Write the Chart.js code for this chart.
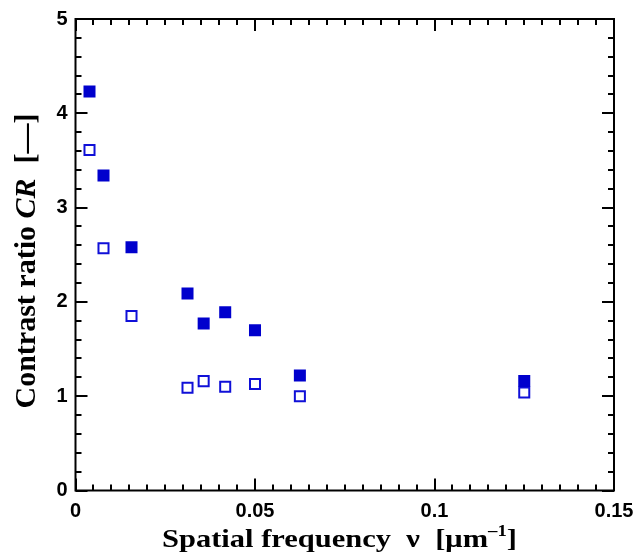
<!DOCTYPE html>
<html>
<head>
<meta charset="utf-8">
<script src="https://cdn.jsdelivr.net/npm/chart.js@4/dist/chart.umd.min.js"></script>
<style>
  html, body { margin: 0; padding: 0; background: #ffffff; }
  #wrap { width: 636px; height: 552px; }
</style>
</head>
<body>
<div id="wrap"><canvas id="c" width="636" height="552"></canvas></div>
<script>
// ---- data ----
const spatialFrequency = [0.0039, 0.0078, 0.0156, 0.0312, 0.0357, 0.0417, 0.05, 0.0625, 0.125];
const contrastFilled   = [4.23, 3.34, 2.58, 2.09, 1.77, 1.89, 1.70, 1.22, 1.16];
const contrastOpen     = [3.61, 2.57, 1.85, 1.09, 1.16, 1.10, 1.13, 1.00, 1.04];

const xTickLabels = ['0', '0.05', '0.1', '0.15'];
const yTickLabels = ['0', '1', '2', '3', '4', '5'];
const xMinorStep = 0.005;
const yMinorStep = 0.2;

const xTitleParts = ['Spatial frequency  \u03BD  [\u03BCm', '\u20131', ']'];
const yTitleParts = ['Contrast ratio ', 'CR', '  [\u2014]'];

const BLUE = '#0000cd';

const filledPoints = spatialFrequency.map((x, i) => ({ x: x, y: contrastFilled[i] }));
const openPoints   = spatialFrequency.map((x, i) => ({ x: x, y: contrastOpen[i] }));

// frame, inward ticks and axis titles
const framePlugin = {
  id: 'frame',
  beforeDatasetsDraw(chart) {
    const { ctx, chartArea: a, scales } = chart;
    const xs = scales.x, ys = scales.y;
    ctx.save();
    ctx.strokeStyle = '#000';
    ctx.lineWidth = 2;
    ctx.lineCap = 'butt';
    ctx.strokeRect(a.left, a.top, a.right - a.left, a.bottom - a.top);
    ctx.beginPath();
    const nx = Math.round((xs.max - xs.min) / xMinorStep);
    for (let i = 0; i <= nx; i++) {
      const v = xs.min + i * xMinorStep;
      const px = Math.round(xs.getPixelForValue(v));
      const len = (i % 10 === 0) ? 12 : 6;
      ctx.moveTo(px, a.bottom); ctx.lineTo(px, a.bottom - len);
      ctx.moveTo(px, a.top); ctx.lineTo(px, a.top + len);
    }
    const ny = Math.round((ys.max - ys.min) / yMinorStep);
    for (let i = 0; i <= ny; i++) {
      const v = ys.min + i * yMinorStep;
      const py = Math.round(ys.getPixelForValue(v));
      const len = (i % 5 === 0) ? 12 : 6;
      ctx.moveTo(a.left, py); ctx.lineTo(a.left + len, py);
      ctx.moveTo(a.right, py); ctx.lineTo(a.right - len, py);
    }
    ctx.stroke();
    ctx.restore();
  },
  afterDraw(chart) {
    const { ctx } = chart;
    ctx.save();
    ctx.fillStyle = '#000';
    ctx.textBaseline = 'alphabetic';
    ctx.textAlign = 'left';
    // x title (slightly widened like the reference)
    const fx = 'bold 26px "Liberation Serif", "Times New Roman", serif';
    const fsup = 'bold 16px "Liberation Serif", "Times New Roman", serif';
    ctx.font = fx;
    const w0 = ctx.measureText(xTitleParts[0]).width;
    const w2 = ctx.measureText(xTitleParts[2]).width;
    ctx.font = fsup;
    const w1 = ctx.measureText(xTitleParts[1]).width;
    const total = w0 + w1 + w2;
    const sx = 355 / total;
    ctx.save();
    ctx.translate(339.5, 547);
    ctx.scale(sx, 1);
    let x = -total / 2;
    ctx.font = fx; ctx.fillText(xTitleParts[0], x, 0); x += w0;
    ctx.font = fsup; ctx.fillText(xTitleParts[1], x, -11); x += w1;
    ctx.font = fx; ctx.fillText(xTitleParts[2], x, 0);
    ctx.restore();

    // y title (rotated)
    const fy = 'bold 30px "Liberation Serif", "Times New Roman", serif';
    const fyi = 'bold italic 30px "Liberation Serif", "Times New Roman", serif';
    ctx.translate(35, 261);
    ctx.rotate(-Math.PI / 2);
    const fonts = [fy, fyi, fy];
    const ws = yTitleParts.map((t, i) => { ctx.font = fonts[i]; return ctx.measureText(t).width; });
    let yx = -(ws[0] + ws[1] + ws[2]) / 2;
    yTitleParts.forEach((t, i) => { ctx.font = fonts[i]; ctx.fillText(t, yx, 0); yx += ws[i]; });
    ctx.restore();
  }
};

const tickFont = { family: '"Liberation Sans", Arial, sans-serif', size: 20, weight: 'bold' };

new Chart(document.getElementById('c'), {
  type: 'scatter',
  data: {
    datasets: [
      {
        label: 'filled',
        data: filledPoints,
        pointStyle: 'rect',
        pointRadius: 8.5,
        pointHoverRadius: 8.5,
        backgroundColor: BLUE,
        borderColor: BLUE,
        borderWidth: 0
      },
      {
        label: 'open',
        data: openPoints,
        pointStyle: 'rect',
        pointRadius: 7.1,
        pointHoverRadius: 7.1,
        backgroundColor: '#ffffff',
        borderColor: '#1010d8',
        borderWidth: 2
      }
    ]
  },
  options: {
    responsive: false,
    animation: false,
    events: [],
    layout: { padding: { left: 0, right: 22, top: 19, bottom: 0 } },
    plugins: { legend: { display: false }, tooltip: { enabled: false } },
    scales: {
      x: {
        type: 'linear',
        min: 0, max: 0.15,
        border: { display: false },
        grid: { display: false, drawTicks: false },
        ticks: {
          stepSize: 0.05, autoSkip: false, maxRotation: 0, padding: 9,
          color: '#000', font: tickFont,
          callback: (v) => { const i = Math.round(v / 0.05); return Math.abs(v - i * 0.05) < 1e-9 ? xTickLabels[i] : ''; }
        },
        afterFit: (s) => { s.height = 61.5; s.paddingLeft = 0; s.paddingRight = 0; }
      },
      y: {
        type: 'linear',
        min: 0, max: 5,
        border: { display: false },
        grid: { display: false, drawTicks: false },
        ticks: {
          stepSize: 1, autoSkip: false, padding: 8,
          color: '#000', font: tickFont,
          callback: (v) => yTickLabels[Math.round(v)]
        },
        afterFit: (s) => { s.width = 75.5; s.paddingTop = 0; s.paddingBottom = 0; }
      }
    }
  },
  plugins: [framePlugin]
});
</script>
</body>
</html>
